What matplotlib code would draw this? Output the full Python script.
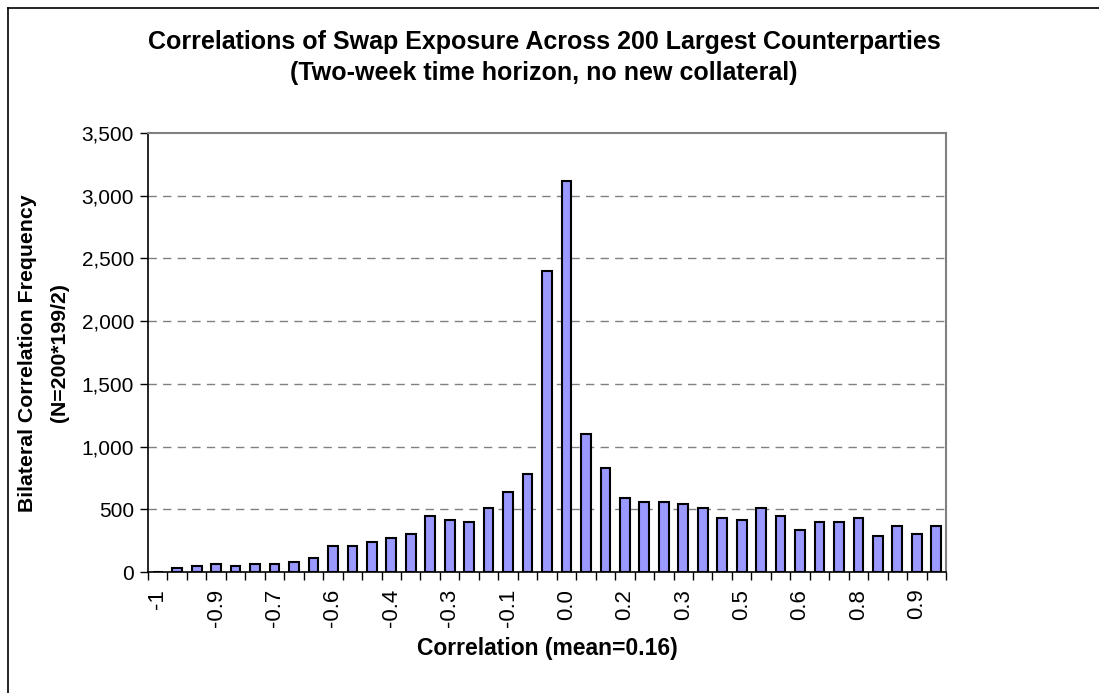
import numpy as np
import matplotlib
matplotlib.use("Agg")
import matplotlib.pyplot as plt
from matplotlib.lines import Line2D

# bin starts -1.00, -0.95, ... 1.00 (Excel category axis)
categories = [-1.00, -0.95, -0.90, -0.85, -0.80, -0.75, -0.70, -0.65, -0.60, -0.55,
              -0.50, -0.45, -0.40, -0.35, -0.30, -0.25, -0.20, -0.15, -0.10, -0.05,
              0.00, 0.05, 0.10, 0.15, 0.20, 0.25, 0.30, 0.35, 0.40, 0.45,
              0.50, 0.55, 0.60, 0.65, 0.70, 0.75, 0.80, 0.85, 0.90, 0.95, 1.00]
frequency = [0, 32, 51, 64, 51, 64, 64, 80, 115, 208,
             208, 240, 272, 304, 448, 416, 400, 512, 640, 784,
             2400, 3120, 1104, 832, 592, 562, 562, 544, 512, 432,
             416, 512, 448, 336, 400, 400, 432, 288, 368, 304, 368]
# Excel shows every 3rd category label, rounded to one decimal
label_every = 3
tick_labels = ["-1", "-0.9", "-0.7", "-0.6", "-0.4", "-0.3", "-0.1",
               "0.0", "0.2", "0.3", "0.5", "0.6", "0.8", "0.9"]
y_ticks = [0, 500, 1000, 1500, 2000, 2500, 3000, 3500]

plt.rcParams['font.family'] = ['Liberation Sans', 'DejaVu Sans']

fig = plt.figure(figsize=(10.99, 6.93), dpi=100)
W, H = 1099, 693
ax = fig.add_axes([148 / W, 1 - 572 / H, (946 - 148) / W, (572 - 133) / H])

x = np.arange(len(categories))
ax.bar(x, frequency, width=0.5, color="#9999FF", edgecolor="black",
       linewidth=1.5, zorder=3)

ax.set_xlim(-0.5, len(categories) - 0.5)
ax.set_ylim(0, 3500)

# y axis
ax.set_yticks(y_ticks)
ax.set_yticklabels(["{:,}".format(v) for v in y_ticks], fontsize=15)
ax.tick_params(axis="y", direction="out", length=6, width=1, pad=4)
for v in y_ticks[1:-1]:
    ax.axhline(v, color="#808080", linewidth=1, linestyle=(0, (6, 4.5)), zorder=1)

# x axis: tick marks between categories, labels every 3rd category
ax.set_xticks(np.arange(len(categories) + 1) - 0.5, minor=True)
ax.set_xticks(x[::label_every])
ax.set_xticklabels(tick_labels, rotation=90, fontsize=16)
ax.tick_params(axis="x", which="major", length=0, pad=12)
ax.tick_params(axis="x", which="minor", direction="out", length=6, width=1)

for side in ["top", "right"]:
    ax.spines[side].set_color("#808080")
    ax.spines[side].set_linewidth(1.5)
for side in ["left", "bottom"]:
    ax.spines[side].set_color("black")
    ax.spines[side].set_linewidth(1.2)

fig.text(547 / W, 1 - 648 / H, "Correlation (mean=0.16)",
         ha="center", va="center", fontsize=16.5, fontweight="bold")
fig.text(28 / W, 1 - 353 / H, "Bilateral Correlation Frequency",
         rotation=90, ha="center", va="center", fontsize=15.3, fontweight="bold")
fig.text(60 / W, 1 - 353 / H, "(N=200*199/2)",
         rotation=90, ha="center", va="center", fontsize=15.3, fontweight="bold")

fig.text(544 / W, 1 - 42 / H,
         "Correlations of Swap Exposure Across 200 Largest Counterparties",
         ha="center", va="center", fontsize=18, fontweight="bold")
fig.text(544 / W, 1 - 73 / H, "(Two-week time horizon, no new collateral)",
         ha="center", va="center", fontsize=18, fontweight="bold")

# chart-area border (only top and left visible in the crop)
fig.add_artist(Line2D([7.5 / W, 7.5 / W], [0, 1 - 7.5 / H], color="black",
                      linewidth=1.2, transform=fig.transFigure))
fig.add_artist(Line2D([7.5 / W, 1], [1 - 7.5 / H, 1 - 7.5 / H], color="black",
                      linewidth=1.2, transform=fig.transFigure))

fig.savefig("out.png", dpi=100)
